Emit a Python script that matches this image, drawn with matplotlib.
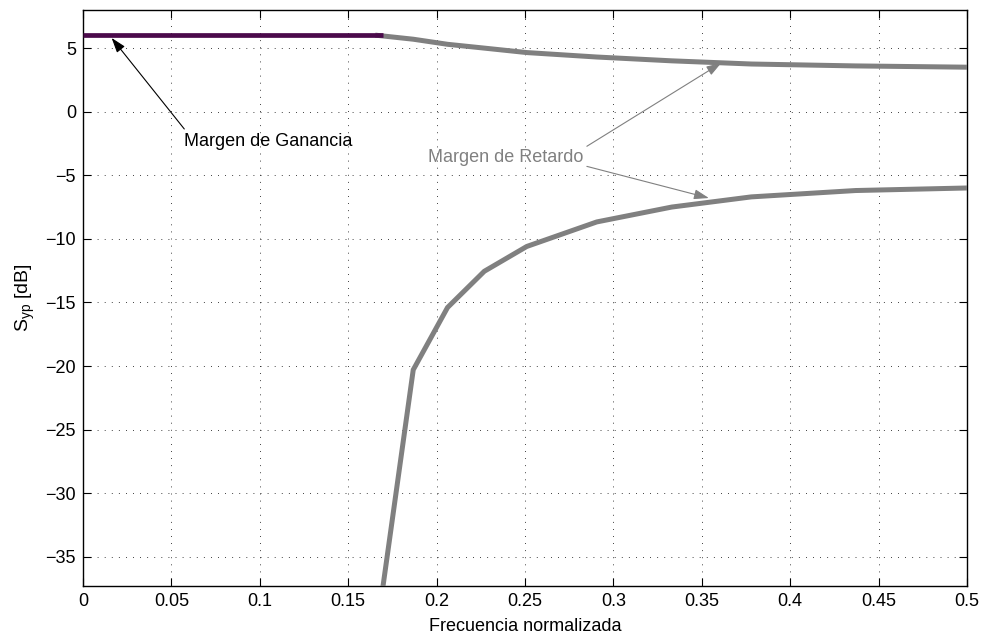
import numpy as np
import matplotlib
matplotlib.use("Agg")
import matplotlib.pyplot as plt

plt.rcParams['font.family'] = ['Liberation Sans', 'DejaVu Sans']
plt.rcParams['mathtext.fontset'] = 'custom'
plt.rcParams['mathtext.rm'] = 'Liberation Sans'
plt.rcParams['mathtext.it'] = 'Liberation Sans'

# datos
f_flat = [0.0, 0.1697]
g_flat = [6.0, 6.0]

f_curve = [0.1667, 0.1868, 0.2062, 0.227, 0.251, 0.2906, 0.333, 0.378, 0.437, 0.5]
g_upper = [6.0, 5.7, 5.3, 5.0, 4.65, 4.3, 4.0, 3.75, 3.6, 3.5]
g_lower = [-40.3, -20.3, -15.4, -12.55, -10.6, -8.67, -7.5, -6.7, -6.2, -6.0]

x_ticks = [0, 0.05, 0.1, 0.15, 0.2, 0.25, 0.3, 0.35, 0.4, 0.45, 0.5]
x_ticklabels = ['0', '0.05', '0.1', '0.15', '0.2', '0.25', '0.3', '0.35', '0.4', '0.45', '0.5']
y_ticks = [-35, -30, -25, -20, -15, -10, -5, 0, 5]
y_ticklabels = ['\u221235', '\u221230', '\u221225', '\u221220', '\u221215', '\u221210', '\u22125', '0', '5']

fs = 13

fig = plt.figure(figsize=(9.82, 6.35), dpi=100)
ax = fig.add_axes([0.0845, 0.0772, 0.9002, 0.9071])

gray = '#808080'
ax.plot(f_curve, g_upper, color=gray, lw=3.6, solid_joinstyle='miter', zorder=3)
ax.plot(f_curve, g_lower, color=gray, lw=3.6, solid_joinstyle='miter', zorder=3)
ax.plot(f_flat, g_flat, color='#4B0A4B', lw=3.4, solid_capstyle='butt', zorder=4)

ax.set_xlim(0, 0.5)
ax.set_ylim(-37.3, 8.0)
ax.set_xticks(x_ticks)
ax.set_xticklabels(x_ticklabels)
ax.set_yticks(y_ticks)
ax.set_yticklabels(y_ticklabels)
ax.tick_params(direction='in', top=True, right=True, length=6, width=0.8,
               labelsize=fs, pad=5)
for s in ax.spines.values():
    s.set_linewidth(1.0)

ax.grid(True, color='black', linestyle=(0, (1, 7.5)), linewidth=0.6)
ax.set_axisbelow(True)

ax.set_xlabel('Frecuencia normalizada', fontsize=fs, labelpad=6)
ax.set_ylabel(r'$\mathregular{S_{yp}}$ [dB]', fontsize=fs + 1, labelpad=6)

# anotaciones
ax.annotate('', xy=(0.0162, 5.8), xytext=(0.0573, -1.36),
            arrowprops=dict(arrowstyle='-|>,head_length=0.9,head_width=0.3',
                            color='black', lw=0.8, shrinkA=0, shrinkB=0))
ax.text(0.0571, -2.33, 'Margen de Ganancia', fontsize=fs, color='black',
        ha='left', va='center')

ax.annotate('', xy=(0.361, 3.83), xytext=(0.285, -2.72),
            arrowprops=dict(arrowstyle='-|>,head_length=0.9,head_width=0.3',
                            color=gray, lw=0.8, shrinkA=0, shrinkB=0))
ax.annotate('', xy=(0.354, -6.79), xytext=(0.285, -4.3),
            arrowprops=dict(arrowstyle='-|>,head_length=0.9,head_width=0.3',
                            color=gray, lw=0.8, shrinkA=0, shrinkB=0))
ax.text(0.195, -3.62, 'Margen de Retardo', fontsize=fs, color=gray,
        ha='left', va='center')

fig.savefig('out.png', dpi=100)
